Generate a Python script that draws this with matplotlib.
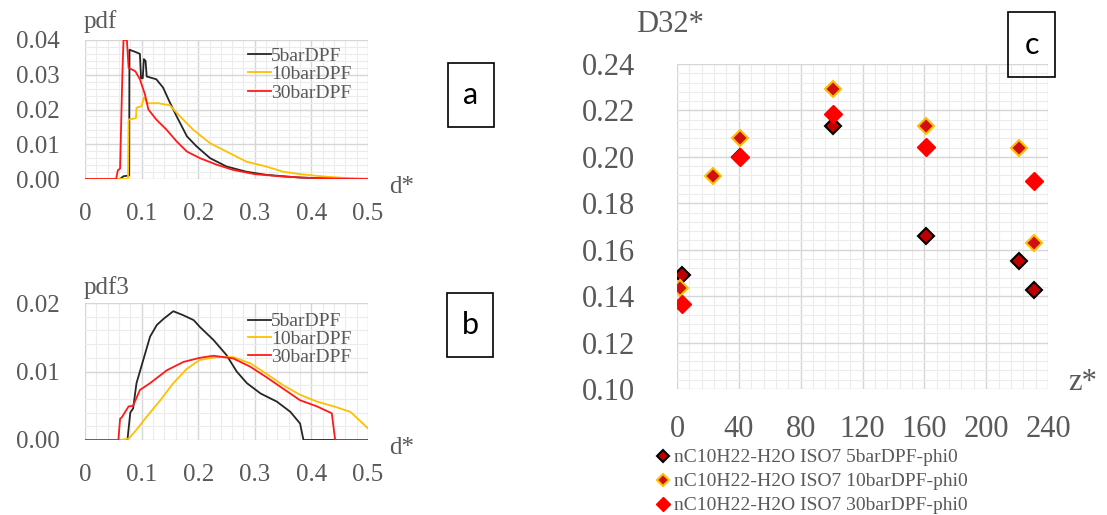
import matplotlib.pyplot as plt
from matplotlib.patches import Rectangle
from matplotlib.ticker import MultipleLocator

plt.rcParams['font.family'] = ['Liberation Serif', 'DejaVu Serif']

W, H = 1107, 515

# panel a : pdf
black5_a_d = [0, 0.062, 0.068, 0.078, 0.0785, 0.09, 0.097, 0.099, 0.102, 0.104, 0.107, 0.109,
              0.126, 0.138, 0.15, 0.162, 0.18, 0.197, 0.221, 0.25, 0.285, 0.32, 0.38, 0.44, 0.5]
black5_a = [0, 0, 0.0008, 0.0010, 0.0372, 0.0365, 0.036, 0.029, 0.029, 0.0345, 0.034, 0.0295,
            0.0287, 0.0263, 0.022, 0.018, 0.0123, 0.0094, 0.006, 0.0036, 0.0021, 0.0012, 0.0004, 0.0001, 0]
yellow10_a_d = [0, 0.076, 0.077, 0.09, 0.091, 0.1, 0.104, 0.11, 0.13, 0.15, 0.168, 0.191, 0.221,
                0.25, 0.285, 0.32, 0.35, 0.38, 0.41, 0.44, 0.47, 0.5]
yellow10_a = [0, 0, 0.0171, 0.0175, 0.0205, 0.021, 0.0235, 0.0218, 0.0218, 0.0212, 0.018, 0.0142,
              0.0103, 0.0079, 0.005, 0.0036, 0.0021, 0.0014, 0.0009, 0.0005, 0.0002, 0.0001]
red30_a_d = [0, 0.055, 0.058, 0.062, 0.066, 0.068, 0.074, 0.077, 0.089, 0.097, 0.106, 0.112, 0.126,
             0.144, 0.162, 0.18, 0.203, 0.233, 0.262, 0.3, 0.35, 0.4, 0.45, 0.5]
red30_a = [0, 0, 0.0025, 0.003, 0.03, 0.04, 0.04, 0.032, 0.031, 0.0287, 0.0243, 0.020, 0.0171,
           0.0142, 0.0108, 0.0079, 0.006, 0.0041, 0.0026, 0.0014, 0.0007, 0.0003, 0.0001, 0]

# panel b : pdf3
black5_b_d = [0, 0.075, 0.08, 0.085, 0.091, 0.103, 0.115, 0.127, 0.139, 0.156, 0.174, 0.192, 0.203,
              0.227, 0.25, 0.268, 0.286, 0.31, 0.339, 0.363, 0.38, 0.386, 0.5]
black5_b = [0, 0, 0.004, 0.0046, 0.0083, 0.0117, 0.0151, 0.0168, 0.0177, 0.0188, 0.0182, 0.0175,
            0.0165, 0.0146, 0.0124, 0.010, 0.0083, 0.0068, 0.0056, 0.0041, 0.0024, 0, 0]
yellow10_b_d = [0, 0.062, 0.077, 0.091, 0.109, 0.133, 0.156, 0.18, 0.203, 0.233, 0.262, 0.292,
                0.32, 0.35, 0.38, 0.41, 0.44, 0.469, 0.5]
yellow10_b = [0, 0, 0.0002, 0.0015, 0.0034, 0.0058, 0.0083, 0.0104, 0.0117, 0.0121, 0.0121, 0.0112,
              0.0097, 0.008, 0.0066, 0.0056, 0.0049, 0.0041, 0.0017]
red30_b_d = [0, 0.059, 0.062, 0.065, 0.077, 0.085, 0.097, 0.115, 0.145, 0.174, 0.203, 0.227, 0.262,
             0.292, 0.32, 0.35, 0.38, 0.41, 0.436, 0.442, 0.5]
red30_b = [0, 0, 0.0031, 0.0033, 0.0049, 0.005, 0.0073, 0.0083, 0.0102, 0.0114, 0.012, 0.0123,
           0.0119, 0.0107, 0.0092, 0.0075, 0.0058, 0.0049, 0.0039, 0, 0]

# panel c : D32* vs z*
z5 = [3, 41, 101, 161, 221, 231]
d5 = [0.149, 0.200, 0.2135, 0.166, 0.155, 0.1425]
z10 = [2, 23, 41, 101, 161, 221, 231]
d10 = [0.1437, 0.1918, 0.208, 0.2292, 0.2135, 0.2039, 0.1628]
z30 = [3, 41, 101, 161, 231]
d30 = [0.1367, 0.1998, 0.2183, 0.2044, 0.1898]

names = ['5barDPF', '10barDPF', '30barDPF']
cols = ['#262626', '#FFC000', '#FF1A1A']
grey = '#595959'


def px_axes(fig, l, t, r, b):
    return fig.add_axes([l / W, 1 - b / H, (r - l) / W, (b - t) / H])


def style(ax, fs, xpad, ypad):
    for s in ax.spines.values():
        s.set_visible(False)
    ax.grid(True, which='major', color='#d6d6d6', lw=1.0)
    ax.grid(True, which='minor', color='#ececec', lw=0.8)
    ax.tick_params(which='both', length=0, colors=grey, labelsize=fs)
    ax.tick_params(axis='x', pad=xpad)
    ax.tick_params(axis='y', pad=ypad)
    ax.set_axisbelow(True)


def ftext(fig, x, y, s, **kw):
    fig.text(x / W, 1 - y / H, s, **kw)


def box(fig, l, t, r, b, letter):
    fig.patches.append(Rectangle((l / W, 1 - b / H), (r - l) / W, (b - t) / H, transform=fig.transFigure,
                                 fill=False, ec='black', lw=1.2))
    ftext(fig, (l + r) / 2, (t + b) / 2, letter, ha='center', va='center', fontsize=22,
          family=['Lato', 'DejaVu Sans'], color='black')


fig = plt.figure(figsize=(W / 100, H / 100), dpi=100)

# panel a
ax = px_axes(fig, 85, 40, 368, 179)
for xd, yd, c, n in zip([black5_a_d, yellow10_a_d, red30_a_d], [black5_a, yellow10_a, red30_a], cols, names):
    ax.plot(xd, yd, color=c, lw=1.3, label=n)
ax.set_xlim(0, 0.5)
ax.set_ylim(0, 0.04)
ax.xaxis.set_minor_locator(MultipleLocator(0.02))
ax.yaxis.set_minor_locator(MultipleLocator(0.002))
ax.set_xticks([0, 0.1, 0.2, 0.3, 0.4, 0.5], ['0', '0.1', '0.2', '0.3', '0.4', '0.5'])
ax.set_yticks([0, 0.01, 0.02, 0.03, 0.04], ['0.00', '0.01', '0.02', '0.03', '0.04'])
style(ax, 18, 17, 18)
ax.legend(loc='upper left', bbox_to_anchor=(0.54, 1.02), frameon=False, fontsize=14,
          handlelength=1.2, handletextpad=0.0, labelspacing=0.05, borderpad=0, labelcolor=grey)
ftext(fig, 100, 22, 'pdf', fontsize=18, color=grey, ha='center', va='center')
ftext(fig, 402, 187, 'd*', fontsize=18, color=grey, ha='center', va='center')
box(fig, 448, 63, 494, 127, 'a')

# panel b
ax = px_axes(fig, 85, 303, 368, 440)
for xd, yd, c, n in zip([black5_b_d, yellow10_b_d, red30_b_d], [black5_b, yellow10_b, red30_b], cols, names):
    ax.plot(xd, yd, color=c, lw=1.3, label=n)
ax.set_xlim(0, 0.5)
ax.set_ylim(0, 0.02)
ax.xaxis.set_minor_locator(MultipleLocator(0.02))
ax.yaxis.set_minor_locator(MultipleLocator(0.002))
ax.set_xticks([0, 0.1, 0.2, 0.3, 0.4, 0.5], ['0', '0.1', '0.2', '0.3', '0.4', '0.5'])
ax.set_yticks([0, 0.01, 0.02], ['0.00', '0.01', '0.02'])
style(ax, 18, 17, 18)
ax.legend(loc='upper left', bbox_to_anchor=(0.54, 1.0), frameon=False, fontsize=14,
          handlelength=1.2, handletextpad=0.0, labelspacing=0.0, borderpad=0, labelcolor=grey)
ftext(fig, 107, 288, 'pdf3', fontsize=18, color=grey, ha='center', va='center')
ftext(fig, 402, 448, 'd*', fontsize=18, color=grey, ha='center', va='center')
box(fig, 447, 293, 493, 357, 'b')

# panel c
ax = px_axes(fig, 677, 64, 1048, 389)
ax.plot(z5, d5, 'D', ms=8, mfc='#C00000', mec='black', mew=1.5, ls='none',
        label='nC10H22-H2O ISO7 5barDPF-phi0', zorder=3)
ax.plot(z10, d10, 'D', ms=8, mfc='#D01010', mec='#FFC000', mew=1.5, ls='none',
        label='nC10H22-H2O ISO7 10barDPF-phi0', zorder=4)
ax.plot(z30, d30, 'D', ms=9, mfc='#FF0000', mec='#FF0000', mew=1, ls='none',
        label='nC10H22-H2O ISO7 30barDPF-phi0', zorder=5)
ax.set_xlim(0, 240)
ax.set_ylim(0.10, 0.24)
ax.set_xticks(range(0, 241, 40))
ax.set_yticks([0.10, 0.12, 0.14, 0.16, 0.18, 0.20, 0.22, 0.24],
              ['0.10', '0.12', '0.14', '0.16', '0.18', '0.20', '0.22', '0.24'])
ax.xaxis.set_minor_locator(MultipleLocator(8))
ax.yaxis.set_minor_locator(MultipleLocator(0.004))
style(ax, 22, 19, 30)
ax.legend(loc='upper left', bbox_to_anchor=(648 / W, 1 - 439 / H), bbox_transform=fig.transFigure,
          frameon=False, fontsize=14, handlelength=0.5, handletextpad=0.35, labelspacing=0.33,
          borderpad=0, markerscale=0.75, labelcolor=grey)
ftext(fig, 670, 25, 'D32*', fontsize=22, color=grey, ha='center', va='center')
ftext(fig, 1083, 382, 'z*', fontsize=22, color=grey, ha='center', va='center')
box(fig, 1008, 12, 1055, 77, 'c')

fig.savefig('out.png', dpi=100)
